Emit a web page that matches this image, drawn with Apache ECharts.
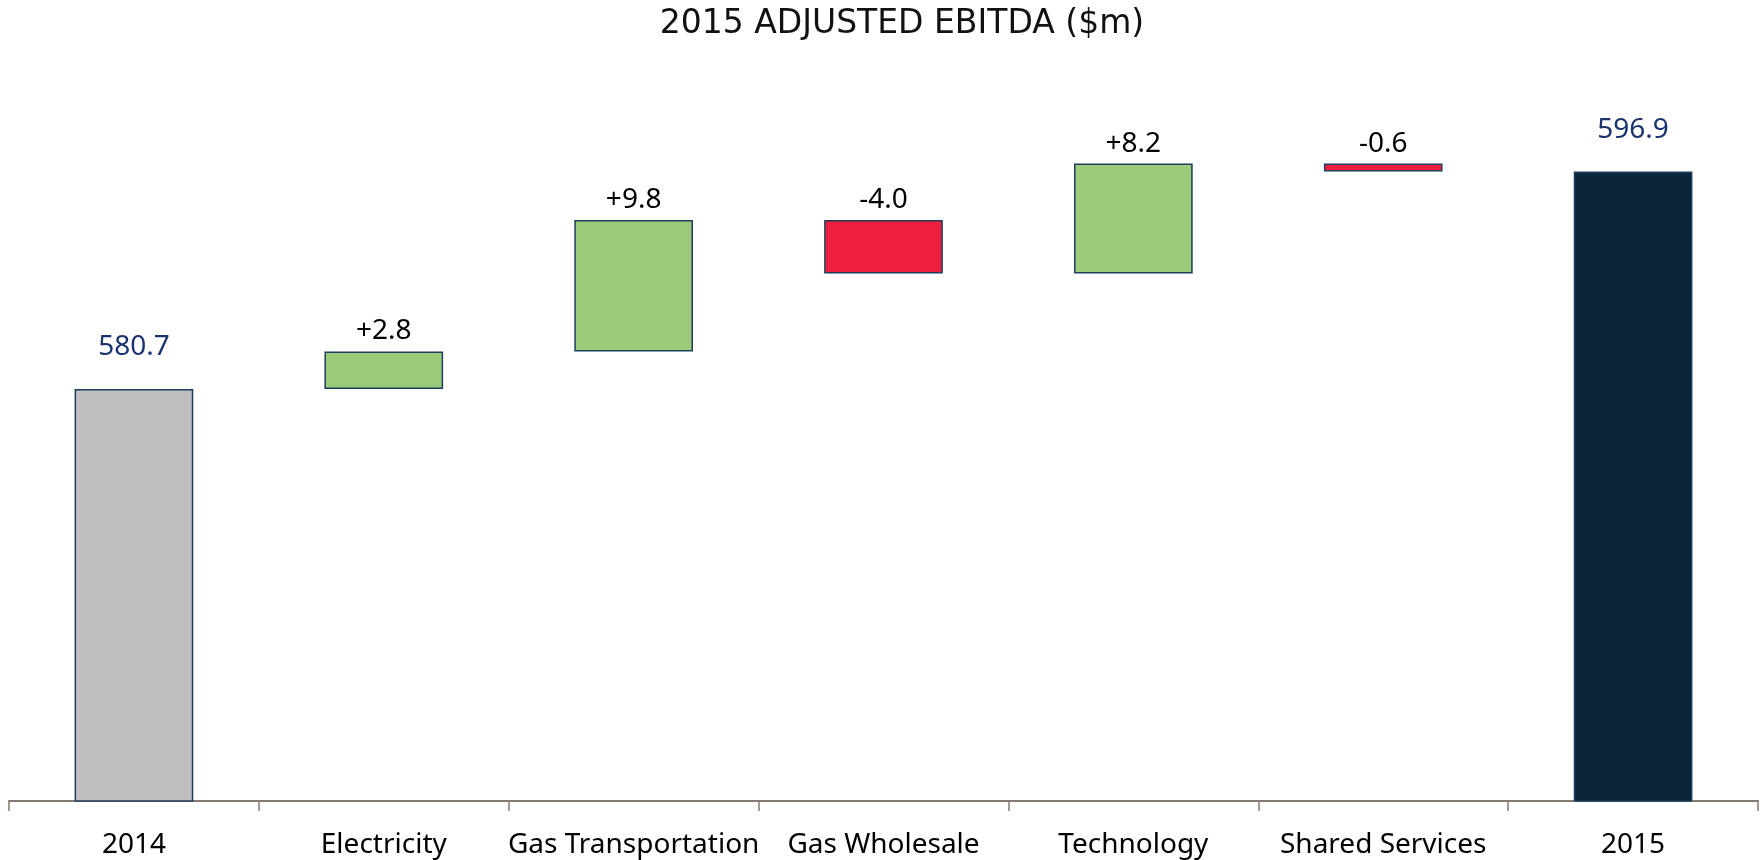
<!DOCTYPE html>
<html>
<head>
<meta charset="utf-8">
<script src="https://cdn.jsdelivr.net/npm/echarts@6/dist/echarts.min.js"></script>
<style>
  html, body { margin: 0; padding: 0; background: #fff; }
  #chart { width: 1760px; height: 860px; }
</style>
</head>
<body>
<div id="chart"></div>
<script>
const categories = ['2014', 'Electricity', 'Gas Transportation', 'Gas Wholesale', 'Technology', 'Shared Services', '2015']
// first and last are totals, the rest are changes
const changes = [580.7, 2.8, 9.8, -4.0, 8.2, -0.6, 596.9]
const isTotal = [true, false, false, false, false, false, true]

const chart = echarts.init(document.getElementById('chart'))

const baseData = []
const barData = []
let running = 0
changes.forEach((v, i) => {
  if (isTotal[i]) {
    running = v
    baseData.push('-')
    barData.push({
      value: v,
      itemStyle: { color: i === 0 ? '#bfbfbf' : '#0b2539' },
      label: { formatter: v.toFixed(1), color: '#1b336e', distance: 28 }
    })
  } else {
    const start = running
    running = +(running + v).toFixed(1)
    baseData.push(Math.min(start, running))
    barData.push({
      value: Math.abs(v),
      itemStyle: { color: v >= 0 ? '#9bcb79' : '#ee1f3e' },
      label: { formatter: (v >= 0 ? '+' : '') + v.toFixed(1), color: '#000', distance: 6 }
    })
  }
})

const option = {
  animation: false,
  title: {
    text: '2015 ADJUSTED EBITDA ($m)',
    left: 897,
    top: 3,
    textAlign: 'center',
    textStyle: { fontFamily: 'DejaVu Sans', fontWeight: 'normal', fontSize: 33, color: '#111' }
  },
  grid: { left: 9, right: 2, top: 130, bottom: 59, containLabel: false },
  xAxis: {
    type: 'category',
    data: categories,
    axisLine: { lineStyle: { color: '#857a72', width: 2 } },
    axisTick: { show: true, length: 10, lineStyle: { color: '#857a72', width: 1.5 } },
    axisLabel: { margin: 30, fontFamily: 'Noto Sans', fontSize: 28, color: '#000', interval: 0 }
  },
  yAxis: {
    type: 'value',
    min: 550,
    max: 600,
    show: false,
    splitLine: { show: false }
  },
  series: [
    {
      type: 'bar',
      stack: 'wf',
      data: baseData,
      itemStyle: { color: 'transparent' },
      silent: true,
      barWidth: '47.5%'
    },
    {
      type: 'bar',
      stack: 'wf',
      data: barData,
      barWidth: '47.5%',
      itemStyle: { borderColor: '#1f3d5c', borderWidth: 1.5 },
      label: {
        show: true,
        position: 'top',
        fontFamily: 'Noto Sans',
        fontSize: 28
      }
    }
  ]
}

chart.setOption(option)
</script>
</body>
</html>
